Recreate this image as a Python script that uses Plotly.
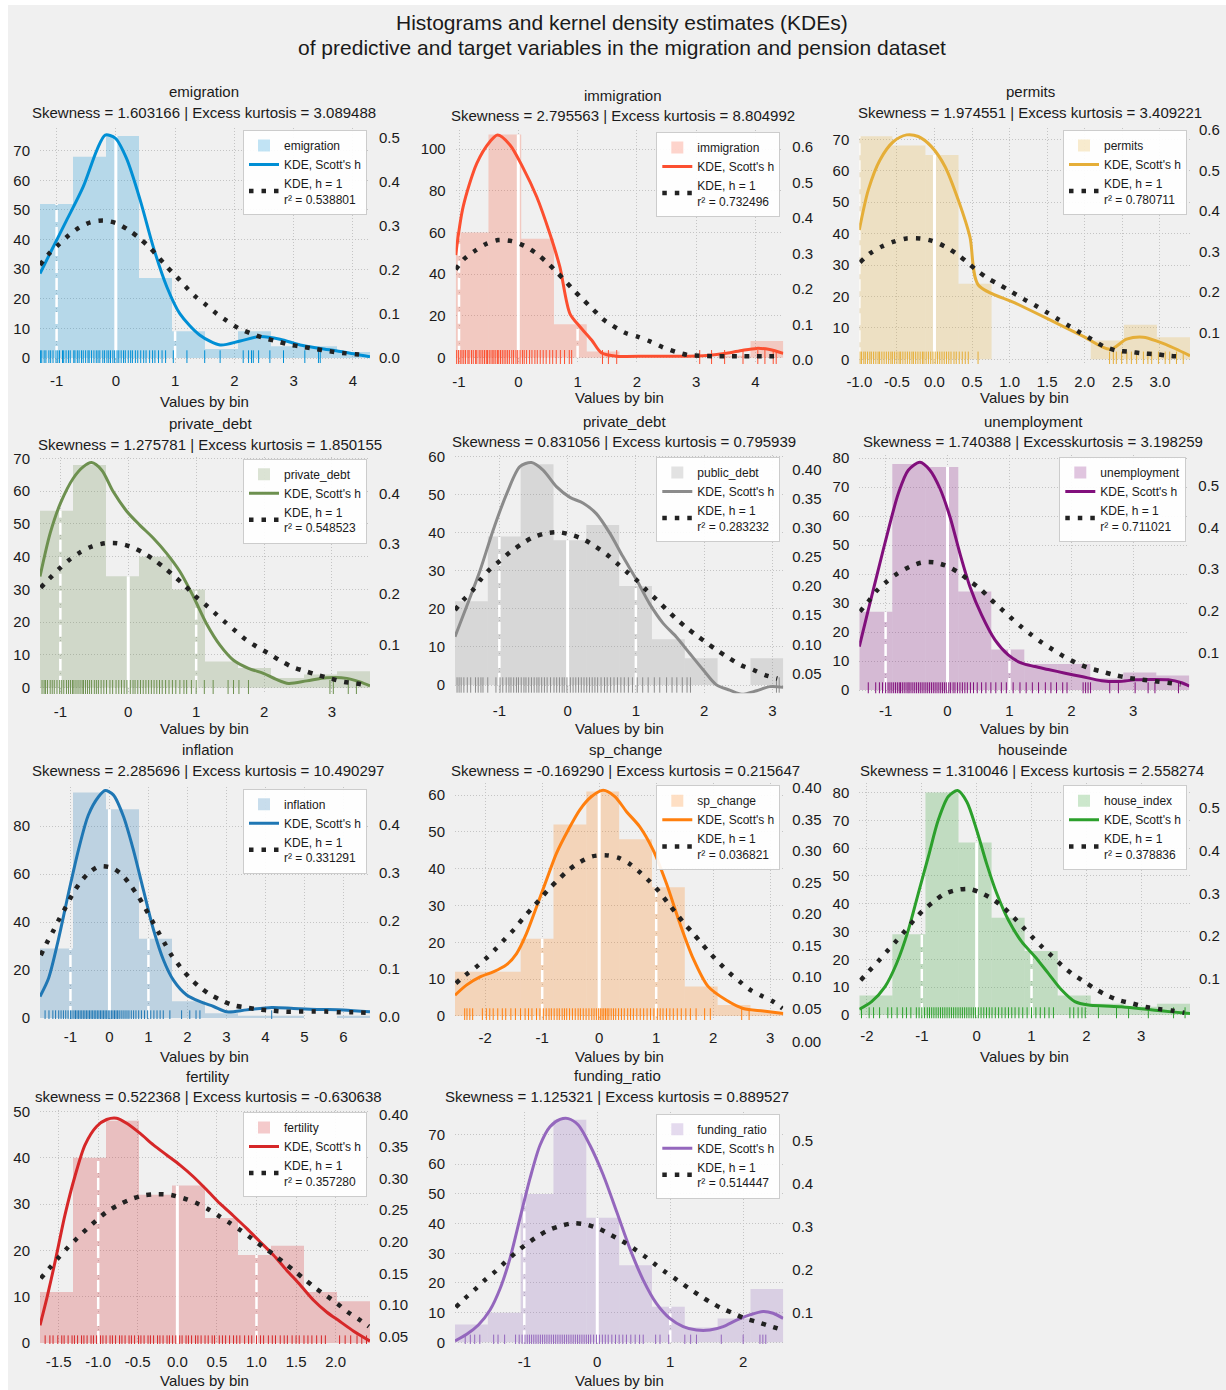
import plotly.graph_objects as go

W, H = 1226, 1390

# ------------------------------------------------------------------ data
EMIG_COUNTS = [52, 68, 75, 27, 9, 3, 9, 4, 4, 2]
EMIG_BINS = [-1.28, 4.29]
EMIG_SCOTT_X = [-1.28, -1.11, -0.83, -0.55, -0.32, -0.18, -0.01, 0.18, 0.41, 0.63, 0.86, 1.08, 1.42, 1.76, 2.10, 2.43, 2.77, 3.11, 3.45, 3.79, 4.29]
EMIG_SCOTT_Y = [0.191, 0.237, 0.312, 0.388, 0.471, 0.505, 0.498, 0.452, 0.358, 0.252, 0.161, 0.100, 0.051, 0.029, 0.038, 0.048, 0.042, 0.029, 0.021, 0.014, 0.002]
EMIG_H1_X = [-1.28, -1.14, -0.97, -0.80, -0.62, -0.43, -0.21, 0.01, 0.21, 0.40, 0.57, 0.72, 0.87, 1.03, 1.18, 1.34, 1.52, 1.70, 1.87, 2.07, 2.28, 2.49, 2.70, 2.92, 3.14, 3.36, 3.59, 3.81, 4.04, 4.24]
EMIG_H1_Y = [0.210, 0.234, 0.256, 0.277, 0.295, 0.307, 0.311, 0.305, 0.290, 0.271, 0.250, 0.228, 0.205, 0.183, 0.161, 0.139, 0.120, 0.100, 0.084, 0.067, 0.055, 0.045, 0.038, 0.030, 0.025, 0.020, 0.015, 0.011, 0.008, 0.005]
EMIG_RUG = [-1.27, -1.25, -1.21, -1.18, -1.13, -1.10, -1.06, -1.01, -0.98, -0.95, -0.90, -0.88, -0.84, -0.80, -0.77, -0.71, -0.69, -0.65, -0.62, -0.58, -0.55, -0.51, -0.47, -0.45, -0.41, -0.37, -0.33, -0.30, -0.27, -0.22, -0.19, -0.15, -0.12, -0.09, -0.05, -0.02, 0.02, 0.05, 0.09, 0.13, 0.16, 0.21, 0.25, 0.28, 0.33, 0.37, 0.42, 0.47, 0.51, 0.57, 0.62, 0.66, 0.72, 0.78, 0.84, 0.97, 1.20, 1.50, 1.76, 2.15, 2.24, 2.29, 2.32, 2.41, 2.60, 2.83, 3.19, 3.42, 3.45]

IMMIG_COUNTS = [60, 107, 57, 16, 3, 0, 0, 0, 1, 8]
IMMIG_BINS = [-1.056, 4.47]
IMMIG_SCOTT_X = [-1.056, -0.93, -0.70, -0.48, -0.35, -0.14, 0.07, 0.31, 0.53, 0.70, 0.87, 1.04, 1.24, 1.40, 1.66, 2.2, 2.8, 3.12, 3.51, 3.79, 4.02, 4.24, 4.47]
IMMIG_SCOTT_Y = [0.296, 0.432, 0.554, 0.615, 0.634, 0.606, 0.545, 0.460, 0.357, 0.263, 0.131, 0.094, 0.056, 0.021, 0.011, 0.011, 0.011, 0.012, 0.019, 0.028, 0.033, 0.030, 0.019]
IMMIG_H1_X = [-1.056, -0.92, -0.73, -0.545, -0.34, -0.11, 0.10, 0.29, 0.47, 0.63, 0.79, 0.94, 1.10, 1.26, 1.43, 1.59, 1.80, 2.01, 2.23, 2.44, 2.66, 2.87, 3.09, 3.31, 3.54, 3.76, 3.99, 4.21, 4.44]
IMMIG_H1_Y = [0.255, 0.284, 0.308, 0.327, 0.338, 0.335, 0.322, 0.302, 0.277, 0.251, 0.223, 0.196, 0.169, 0.143, 0.115, 0.097, 0.077, 0.066, 0.052, 0.036, 0.023, 0.014, 0.012, 0.011, 0.011, 0.011, 0.011, 0.011, 0.011]
IMMIG_RUG = [-1.04, -1.01, -0.98, -0.95, -0.92, -0.89, -0.85, -0.83, -0.79, -0.76, -0.72, -0.70, -0.66, -0.63, -0.60, -0.57, -0.54, -0.52, -0.49, -0.46, -0.43, -0.41, -0.38, -0.35, -0.33, -0.30, -0.27, -0.24, -0.21, -0.18, -0.15, -0.11, -0.08, -0.04, -0.01, 0.03, 0.07, 0.10, 0.14, 0.19, 0.23, 0.28, 0.32, 0.37, 0.42, 0.47, 0.53, 0.58, 0.64, 0.71, 0.78, 0.86, 0.90, 1.42, 1.52, 1.66, 3.06, 3.26, 3.48, 3.79, 4.04, 4.16, 4.30, 4.35]

PERM_COUNTS = [71, 68, 65, 24, 0, 0, 0, 6, 11, 7]
PERM_BINS = [-1.0, 3.40]
PERM_SCOTT_X = [-1.0, -0.88, -0.725, -0.548, -0.37, -0.215, -0.04, 0.14, 0.317, 0.472, 0.583, 1.07, 1.51, 1.96, 2.335, 2.556, 2.778, 2.978, 3.2, 3.4]
PERM_SCOTT_Y = [0.353, 0.452, 0.526, 0.571, 0.588, 0.584, 0.559, 0.510, 0.427, 0.336, 0.217, 0.173, 0.133, 0.092, 0.058, 0.083, 0.088, 0.077, 0.060, 0.042]
PERM_H1_X = [-0.99, -0.858, -0.70, -0.54, -0.37, -0.19, -0.03, 0.14, 0.295, 0.437, 0.57, 0.716, 0.87, 1.027, 1.18, 1.337, 1.49, 1.64, 1.79, 1.94, 2.09, 2.255, 2.42, 2.59, 2.77, 2.94, 3.12, 3.29]
PERM_H1_Y = [0.273, 0.295, 0.312, 0.324, 0.332, 0.332, 0.326, 0.312, 0.294, 0.273, 0.252, 0.233, 0.217, 0.200, 0.183, 0.167, 0.150, 0.133, 0.116, 0.099, 0.083, 0.065, 0.055, 0.052, 0.048, 0.046, 0.042, 0.040]
PERM_RUG = [-0.99, -0.97, -0.94, -0.92, -0.89, -0.86, -0.84, -0.81, -0.78, -0.75, -0.73, -0.70, -0.67, -0.64, -0.61, -0.58, -0.56, -0.53, -0.50, -0.47, -0.45, -0.42, -0.39, -0.36, -0.33, -0.30, -0.28, -0.25, -0.22, -0.19, -0.16, -0.14, -0.11, -0.08, -0.05, -0.02, 0.01, 0.04, 0.07, 0.10, 0.13, 0.16, 0.19, 0.22, 0.26, 0.29, 0.33, 0.37, 0.41, 0.45, 0.58, 2.33, 2.38, 2.42, 2.49, 2.56, 2.62, 2.69, 2.78, 2.84, 2.89, 2.98, 3.07, 3.13, 3.22, 3.31]

PRIV_COUNTS = [54, 68, 34, 40, 30, 8, 6, 3, 4, 5]
PRIV_BINS = [-1.30, 3.56]
PRIV_SCOTT_X = [-1.30, -1.15, -1.0, -0.81, -0.66, -0.54, -0.39, -0.22, -0.02, 0.17, 0.37, 0.565, 0.76, 0.96, 1.15, 1.35, 1.55, 1.77, 1.99, 2.18, 2.36, 2.63, 2.92, 3.22, 3.41, 3.56]
PRIV_SCOTT_Y = [0.235, 0.321, 0.380, 0.430, 0.453, 0.461, 0.446, 0.403, 0.364, 0.337, 0.311, 0.281, 0.245, 0.195, 0.142, 0.099, 0.069, 0.053, 0.043, 0.031, 0.023, 0.028, 0.034, 0.033, 0.026, 0.018]
PRIV_H1_X = [-1.29, -1.16, -1.02, -0.87, -0.71, -0.53, -0.34, -0.16, 0.04, 0.22, 0.38, 0.545, 0.70, 0.84, 0.98, 1.13, 1.28, 1.43, 1.58, 1.73, 1.89, 2.06, 2.23, 2.41, 2.59, 2.78, 2.97, 3.17, 3.35, 3.53]
PRIV_H1_Y = [0.213, 0.231, 0.250, 0.268, 0.283, 0.295, 0.301, 0.301, 0.294, 0.282, 0.268, 0.251, 0.233, 0.216, 0.197, 0.180, 0.162, 0.144, 0.127, 0.110, 0.096, 0.083, 0.069, 0.056, 0.048, 0.040, 0.033, 0.026, 0.023, 0.019]
PRIV_RUG = [-1.27, -1.24, -1.22, -1.19, -1.15, -1.12, -1.09, -1.05, -1.01, -0.98, -0.95, -0.91, -0.88, -0.85, -0.82, -0.80, -0.77, -0.74, -0.71, -0.68, -0.66, -0.63, -0.60, -0.57, -0.54, -0.50, -0.47, -0.44, -0.40, -0.36, -0.32, -0.27, -0.23, -0.18, -0.14, -0.10, -0.06, -0.02, 0.03, 0.07, 0.10, 0.14, 0.18, 0.22, 0.26, 0.30, 0.34, 0.38, 0.42, 0.46, 0.50, 0.55, 0.60, 0.65, 0.70, 0.76, 0.82, 0.86, 0.93, 1.00, 1.12, 1.25, 1.47, 1.55, 1.63, 1.77, 2.97, 3.02, 3.24, 3.36]

PUB_COUNTS = [22, 39, 58, 38, 42, 26, 12, 7, 0, 7]
PUB_BINS = [-1.65, 3.16]
PUB_SCOTT_X = [-1.65, -1.48, -1.28, -1.09, -0.89, -0.70, -0.53, -0.36, -0.16, 0.034, 0.23, 0.42, 0.62, 0.81, 1.01, 1.20, 1.40, 1.59, 1.79, 1.985, 2.18, 2.375, 2.55, 2.77, 2.96, 3.16]
PUB_SCOTT_Y = [0.113, 0.165, 0.228, 0.297, 0.360, 0.406, 0.413, 0.400, 0.371, 0.353, 0.343, 0.325, 0.291, 0.251, 0.211, 0.170, 0.136, 0.113, 0.084, 0.056, 0.030, 0.021, 0.014, 0.020, 0.027, 0.026]
PUB_H1_X = [-1.65, -1.53, -1.39, -1.27, -1.14, -0.99, -0.84, -0.67, -0.51, -0.33, -0.127, 0.068, 0.244, 0.41, 0.57, 0.727, 0.873, 1.015, 1.156, 1.30, 1.44, 1.58, 1.727, 1.88, 2.03, 2.195, 2.366, 2.537, 2.717, 2.893, 3.073]
PUB_H1_Y = [0.159, 0.176, 0.193, 0.212, 0.229, 0.244, 0.259, 0.273, 0.284, 0.291, 0.293, 0.288, 0.280, 0.268, 0.255, 0.239, 0.224, 0.210, 0.193, 0.177, 0.161, 0.145, 0.130, 0.116, 0.103, 0.089, 0.076, 0.064, 0.056, 0.047, 0.041]
PUB_RUG = [-1.62, -1.59, -1.56, -1.52, -1.47, -1.42, -1.35, -1.31, -1.27, -1.24, -1.17, -1.05, -0.99, -0.95, -0.90, -0.86, -0.83, -0.79, -0.75, -0.72, -0.68, -0.64, -0.61, -0.57, -0.53, -0.49, -0.45, -0.42, -0.38, -0.34, -0.30, -0.25, -0.20, -0.16, -0.12, -0.08, -0.05, -0.01, 0.04, 0.08, 0.12, 0.16, 0.20, 0.24, 0.28, 0.32, 0.36, 0.40, 0.44, 0.49, 0.54, 0.58, 0.63, 0.68, 0.73, 0.78, 0.83, 0.89, 0.95, 1.02, 1.10, 1.18, 1.27, 1.35, 1.45, 1.53, 1.60, 1.68, 1.75, 1.80, 3.06, 3.10]

UNEMP_COUNTS = [27, 78, 77, 34, 14, 9, 9, 4, 6, 5]
UNEMP_BINS = [-1.425, 3.905]
UNEMP_SCOTT_X = [-1.425, -1.28, -1.12, -0.957, -0.795, -0.634, -0.445, -0.284, -0.122, 0.039, 0.2, 0.362, 0.55, 0.766, 0.98, 1.197, 1.41, 1.627, 1.9, 2.166, 2.49, 2.758, 3.03, 3.3, 3.565, 3.78, 3.905]
UNEMP_SCOTT_Y = [0.114, 0.202, 0.298, 0.394, 0.482, 0.538, 0.557, 0.538, 0.494, 0.426, 0.338, 0.258, 0.190, 0.130, 0.094, 0.074, 0.066, 0.059, 0.050, 0.042, 0.032, 0.030, 0.034, 0.035, 0.034, 0.027, 0.019]
UNEMP_H1_X = [-1.415, -1.28, -1.145, -0.984, -0.806, -0.607, -0.42, -0.203, 0.012, 0.2, 0.373, 0.534, 0.696, 0.857, 1.019, 1.18, 1.347, 1.52, 1.697, 1.88, 2.074, 2.273, 2.489, 2.69, 2.91, 3.118, 3.334, 3.55, 3.764]
UNEMP_H1_Y = [0.198, 0.222, 0.248, 0.270, 0.290, 0.306, 0.316, 0.316, 0.306, 0.290, 0.270, 0.252, 0.228, 0.206, 0.184, 0.163, 0.143, 0.124, 0.107, 0.090, 0.075, 0.063, 0.054, 0.046, 0.039, 0.035, 0.031, 0.027, 0.023]
UNEMP_RUG = [-1.28, -1.16, -1.10, -1.05, -1.00, -0.96, -0.93, -0.90, -0.87, -0.84, -0.81, -0.78, -0.76, -0.73, -0.70, -0.67, -0.64, -0.62, -0.59, -0.56, -0.53, -0.50, -0.47, -0.44, -0.41, -0.38, -0.35, -0.32, -0.29, -0.26, -0.23, -0.20, -0.17, -0.14, -0.11, -0.08, -0.05, -0.02, 0.02, 0.05, 0.09, 0.12, 0.16, 0.20, 0.24, 0.28, 0.32, 0.37, 0.42, 0.48, 0.55, 0.62, 0.70, 0.78, 0.87, 0.95, 1.06, 1.17, 1.27, 1.37, 1.47, 1.58, 1.67, 1.76, 1.86, 1.93, 2.19, 2.23, 2.27, 2.31, 2.62, 2.76, 3.03, 3.24, 3.35, 3.73]

INFL_COUNTS = [29, 94, 87, 33, 7, 2, 1, 1, 0, 1]
INFL_BINS = [-1.78, 6.68]
INFL_SCOTT_X = [-1.78, -1.56, -1.31, -1.05, -0.795, -0.54, -0.28, -0.11, 0.10, 0.36, 0.615, 0.87, 1.13, 1.385, 1.64, 1.98, 2.325, 2.67, 3.01, 3.52, 4.16, 4.72, 5.32, 6.0, 6.68]
INFL_SCOTT_Y = [0.042, 0.080, 0.160, 0.257, 0.347, 0.420, 0.458, 0.471, 0.462, 0.417, 0.347, 0.264, 0.181, 0.118, 0.076, 0.045, 0.031, 0.021, 0.010, 0.014, 0.019, 0.017, 0.015, 0.014, 0.010]
INFL_H1_X = [-1.76, -1.61, -1.45, -1.29, -1.12, -0.96, -0.78, -0.56, -0.28, 0.06, 0.33, 0.556, 0.744, 0.915, 1.085, 1.256, 1.427, 1.60, 1.81, 2.03, 2.28, 2.556, 2.84, 3.16, 3.50, 3.82, 4.16, 4.52, 4.86, 5.20, 5.55, 5.89, 6.23, 6.57]
INFL_H1_Y = [0.128, 0.153, 0.177, 0.203, 0.228, 0.253, 0.276, 0.297, 0.3125, 0.310, 0.295, 0.272, 0.250, 0.226, 0.201, 0.176, 0.151, 0.127, 0.104, 0.083, 0.064, 0.047, 0.035, 0.024, 0.019, 0.015, 0.0125, 0.0104, 0.0104, 0.0104, 0.0104, 0.009, 0.009, 0.008]
INFL_RUG = [-1.65, -1.55, -1.45, -1.38, -1.30, -1.24, -1.18, -1.12, -1.06, -1.00, -0.96, -0.91, -0.87, -0.83, -0.79, -0.75, -0.71, -0.67, -0.63, -0.59, -0.55, -0.51, -0.47, -0.43, -0.39, -0.35, -0.31, -0.27, -0.23, -0.19, -0.15, -0.11, -0.07, -0.03, 0.01, 0.05, 0.09, 0.13, 0.17, 0.21, 0.25, 0.30, 0.35, 0.40, 0.45, 0.50, 0.56, 0.62, 0.68, 0.75, 0.82, 0.90, 0.98, 1.06, 1.14, 1.22, 1.30, 1.38, 1.55, 1.85, 2.06, 2.22, 2.32, 4.16]

SP_COUNTS = [12, 12, 21, 52, 61, 48, 35, 8, 3, 1]
SP_BINS = [-2.53, 3.23]
SP_SCOTT_X = [-2.53, -2.33, -2.09, -1.86, -1.63, -1.45, -1.275, -1.10, -0.924, -0.75, -0.544, -0.34, -0.135, 0.07, 0.275, 0.48, 0.713, 0.947, 1.18, 1.415, 1.65, 1.91, 2.234, 2.526, 2.877, 3.23]
SP_SCOTT_Y = [0.071, 0.087, 0.100, 0.108, 0.119, 0.137, 0.169, 0.211, 0.254, 0.296, 0.333, 0.365, 0.386, 0.396, 0.386, 0.362, 0.338, 0.301, 0.248, 0.185, 0.129, 0.085, 0.063, 0.050, 0.046, 0.042]
SP_H1_X = [-2.515, -2.345, -2.17, -1.99, -1.82, -1.655, -1.497, -1.345, -1.187, -1.03, -0.877, -0.708, -0.532, -0.34, -0.13, 0.105, 0.333, 0.538, 0.713, 0.889, 1.053, 1.20, 1.339, 1.49, 1.649, 1.807, 1.97, 2.13, 2.29, 2.468, 2.643, 2.848, 3.05, 3.216]
SP_H1_Y = [0.090, 0.103, 0.115, 0.129, 0.144, 0.160, 0.175, 0.192, 0.208, 0.224, 0.240, 0.255, 0.270, 0.282, 0.291, 0.293, 0.289, 0.279, 0.266, 0.251, 0.235, 0.218, 0.202, 0.185, 0.169, 0.152, 0.135, 0.120, 0.106, 0.0925, 0.080, 0.070, 0.061, 0.050]
SP_RUG = [-2.36, -2.32, -2.27, -2.22, -2.05, -1.98, -1.92, -1.86, -1.78, -1.70, -1.64, -1.55, -1.47, -1.38, -1.30, -1.24, -1.18, -1.10, -1.04, -0.98, -0.93, -0.88, -0.84, -0.79, -0.74, -0.70, -0.65, -0.61, -0.57, -0.52, -0.47, -0.42, -0.37, -0.33, -0.28, -0.23, -0.18, -0.13, -0.09, -0.05, -0.01, 0.02, 0.05, 0.08, 0.11, 0.14, 0.17, 0.21, 0.25, 0.29, 0.34, 0.39, 0.44, 0.50, 0.55, 0.60, 0.66, 0.72, 0.78, 0.84, 0.90, 0.96, 1.02, 1.07, 1.12, 1.18, 1.24, 1.30, 1.37, 1.44, 1.52, 1.60, 1.70, 1.85, 1.95, 2.50, 2.63]

HOUSE_COUNTS = [7, 29, 80, 62, 35, 23, 7, 4, 3, 4]
HOUSE_BINS = [-2.14, 3.89]
HOUSE_SCOTT_X = [-2.14, -1.915, -1.67, -1.46, -1.246, -1.064, -0.88, -0.70, -0.517, -0.347, -0.18, 0.0, 0.18, 0.365, 0.578, 0.82, 1.064, 1.307, 1.55, 1.79, 2.04, 2.34, 2.64, 2.95, 3.25, 3.556, 3.89]
HOUSE_SCOTT_Y = [0.029, 0.047, 0.082, 0.136, 0.214, 0.300, 0.386, 0.471, 0.526, 0.540, 0.514, 0.448, 0.370, 0.300, 0.2375, 0.187, 0.152, 0.113, 0.074, 0.047, 0.039, 0.037, 0.035, 0.031, 0.027, 0.023, 0.019]
HOUSE_H1_X = [-2.115, -1.957, -1.79, -1.63, -1.47, -1.307, -1.143, -0.985, -0.80, -0.596, -0.377, -0.134, 0.103, 0.316, 0.505, 0.68, 0.85, 1.02, 1.19, 1.368, 1.55, 1.73, 1.93, 2.146, 2.37, 2.596, 2.827, 3.07, 3.31, 3.556, 3.787]
HOUSE_H1_Y = [0.097, 0.119, 0.142, 0.165, 0.188, 0.212, 0.2375, 0.259, 0.279, 0.298, 0.3076, 0.310, 0.2998, 0.284, 0.265, 0.243, 0.220, 0.197, 0.175, 0.154, 0.132, 0.113, 0.096, 0.078, 0.062, 0.050, 0.043, 0.035, 0.030, 0.026, 0.021]
HOUSE_RUG = [-2.10, -1.96, -1.88, -1.77, -1.62, -1.55, -1.45, -1.35, -1.28, -1.20, -1.10, -1.05, -1.00, -0.95, -0.90, -0.86, -0.82, -0.78, -0.74, -0.70, -0.66, -0.62, -0.58, -0.54, -0.50, -0.46, -0.42, -0.38, -0.34, -0.30, -0.26, -0.22, -0.18, -0.14, -0.10, -0.06, -0.02, 0.03, 0.08, 0.13, 0.18, 0.23, 0.28, 0.34, 0.40, 0.46, 0.52, 0.58, 0.64, 0.70, 0.77, 0.84, 0.92, 1.00, 1.08, 1.16, 1.24, 1.32, 1.40, 1.70, 1.77, 1.85, 1.92, 1.98, 2.22, 2.55, 2.77, 3.13, 3.59, 3.80]

FERT_COUNTS = [11, 40, 48, 32, 34, 27, 19, 21, 11, 9]
FERT_BINS = [-1.735, 2.434]
FERT_SCOTT_X = [-1.735, -1.65, -1.545, -1.42, -1.29, -1.166, -1.02, -0.893, -0.766, -0.64, -0.47, -0.303, -0.135, 0.034, 0.2, 0.37, 0.54, 0.707, 0.876, 1.044, 1.213, 1.38, 1.55, 1.718, 1.886, 2.055, 2.223, 2.434]
FERT_SCOTT_Y = [0.068, 0.110, 0.168, 0.242, 0.305, 0.353, 0.382, 0.393, 0.395, 0.387, 0.371, 0.353, 0.337, 0.321, 0.303, 0.282, 0.260, 0.241, 0.221, 0.200, 0.179, 0.155, 0.132, 0.108, 0.089, 0.074, 0.059, 0.043]
FERT_H1_X = [-1.726, -1.617, -1.50, -1.39, -1.27, -1.145, -1.02, -0.893, -0.745, -0.59, -0.43, -0.26, -0.093, 0.067, 0.223, 0.38, 0.52, 0.657, 0.80, 0.94, 1.078, 1.213, 1.347, 1.478, 1.613, 1.743, 1.878, 2.013, 2.152, 2.286, 2.42]
FERT_H1_Y = [0.142, 0.158, 0.175, 0.190, 0.205, 0.220, 0.234, 0.247, 0.258, 0.267, 0.273, 0.275, 0.274, 0.269, 0.262, 0.252, 0.241, 0.230, 0.218, 0.205, 0.192, 0.180, 0.167, 0.154, 0.140, 0.127, 0.115, 0.103, 0.089, 0.078, 0.066]
FERT_RUG = [-1.67, -1.61, -1.57, -1.51, -1.46, -1.43, -1.38, -1.33, -1.30, -1.26, -1.21, -1.18, -1.14, -1.09, -1.06, -1.02, -0.97, -0.94, -0.90, -0.85, -0.82, -0.78, -0.73, -0.70, -0.66, -0.61, -0.58, -0.54, -0.49, -0.46, -0.42, -0.37, -0.34, -0.30, -0.25, -0.22, -0.18, -0.13, -0.10, -0.06, -0.02, 0.03, 0.06, 0.11, 0.14, 0.18, 0.23, 0.26, 0.30, 0.35, 0.39, 0.44, 0.47, 0.53, 0.57, 0.61, 0.66, 0.71, 0.75, 0.79, 0.85, 0.90, 0.94, 1.00, 1.05, 1.09, 1.15, 1.20, 1.24, 1.30, 1.35, 1.39, 1.45, 1.50, 1.54, 1.60, 1.65, 1.70, 1.76, 1.82, 1.87, 2.05, 2.12, 2.19, 2.27, 2.33, 2.39]

FUND_COUNTS = [6, 10, 50, 75, 42, 26, 12, 5, 8, 18]
FUND_BINS = [-1.95, 2.55]
FUND_SCOTT_X = [-1.95, -1.79, -1.63, -1.47, -1.33, -1.196, -1.06, -0.922, -0.785, -0.648, -0.511, -0.397, -0.26, -0.10, 0.082, 0.265, 0.447, 0.63, 0.81, 0.995, 1.178, 1.36, 1.543, 1.726, 1.909, 2.09, 2.274, 2.41, 2.548]
FUND_SCOTT_Y = [0.0356, 0.051, 0.0727, 0.1075, 0.158, 0.2275, 0.320, 0.413, 0.490, 0.533, 0.550, 0.552, 0.537, 0.490, 0.421, 0.336, 0.250, 0.177, 0.123, 0.088, 0.069, 0.061, 0.061, 0.069, 0.084, 0.096, 0.104, 0.100, 0.088]
FUND_H1_X = [-1.94, -1.81, -1.676, -1.54, -1.40, -1.265, -1.128, -0.99, -0.84, -0.68, -0.51, -0.33, -0.155, 0.014, 0.174, 0.338, 0.493, 0.644, 0.79, 0.94, 1.096, 1.247, 1.397, 1.557, 1.712, 1.863, 2.023, 2.205, 2.388, 2.539]
FUND_H1_Y = [0.114, 0.135, 0.1555, 0.177, 0.1965, 0.218, 0.239, 0.258, 0.276, 0.292, 0.3025, 0.309, 0.306, 0.297, 0.283, 0.268, 0.251, 0.233, 0.214, 0.195, 0.177, 0.159, 0.142, 0.125, 0.111, 0.100, 0.088, 0.079, 0.069, 0.061]
FUND_RUG = [-1.81, -1.74, -1.68, -1.61, -1.42, -1.36, -1.27, -1.12, -1.07, -1.03, -0.99, -0.96, -0.93, -0.90, -0.87, -0.84, -0.81, -0.78, -0.75, -0.72, -0.69, -0.66, -0.63, -0.60, -0.57, -0.54, -0.51, -0.48, -0.45, -0.42, -0.39, -0.36, -0.33, -0.30, -0.27, -0.24, -0.21, -0.18, -0.15, -0.12, -0.09, -0.05, -0.01, 0.03, 0.07, 0.11, 0.15, 0.20, 0.25, 0.30, 0.35, 0.40, 0.46, 0.52, 0.58, 0.63, 0.80, 0.86, 0.98, 1.20, 1.28, 1.36, 1.70, 2.00, 2.23, 2.27, 2.31]

TITLES = ["emigration", "immigration", "permits", "private_debt", "private_debt", "unemployment",
          "inflation", "sp_change", "houseinde", "fertility", "funding_ratio"]
LEGEND_NAMES = ["emigration", "immigration", "permits", "private_debt", "public_debt", "unemployment",
                "inflation", "sp_change", "house_index", "fertility", "funding_ratio"]
STATS = ["Skewness = 1.603166 | Excess kurtosis = 3.089488",
         "Skewness = 2.795563 | Excess kurtosis = 8.804992",
         "Skewness = 1.974551 | Excess kurtosis = 3.409221",
         "Skewness = 1.275781 | Excess kurtosis = 1.850155",
         "Skewness = 0.831056 | Excess kurtosis = 0.795939",
         "Skewness = 1.740388 | Excesskurtosis = 3.198259",
         "Skewness = 2.285696 | Excess kurtosis = 10.490297",
         "Skewness = -0.169290 | Excess kurtosis = 0.215647",
         "Skewness = 1.310046 | Excess kurtosis = 2.558274",
         "skewness = 0.522368 | Excess kurtosis = -0.630638",
         "Skewness = 1.125321 | Excess kurtosis = 0.889527"]
R2 = ["0.538801", "0.732496", "0.780711", "0.548523", "0.283232", "0.711021",
      "0.331291", "0.036821", "0.378836", "0.357280", "0.514447"]

# ------------------------------------------------------------------ styling / layout
COLORS = ["#008fd5", "#fc4f30", "#e5ae38", "#6d904f", "#8b8b8b", "#810f7c",
          "#1f77b4", "#ff7f0e", "#2ca02c", "#d62728", "#9467bd"]

DATA = [
    (EMIG_COUNTS, EMIG_BINS, EMIG_SCOTT_X, EMIG_SCOTT_Y, EMIG_H1_X, EMIG_H1_Y, EMIG_RUG),
    (IMMIG_COUNTS, IMMIG_BINS, IMMIG_SCOTT_X, IMMIG_SCOTT_Y, IMMIG_H1_X, IMMIG_H1_Y, IMMIG_RUG),
    (PERM_COUNTS, PERM_BINS, PERM_SCOTT_X, PERM_SCOTT_Y, PERM_H1_X, PERM_H1_Y, PERM_RUG),
    (PRIV_COUNTS, PRIV_BINS, PRIV_SCOTT_X, PRIV_SCOTT_Y, PRIV_H1_X, PRIV_H1_Y, PRIV_RUG),
    (PUB_COUNTS, PUB_BINS, PUB_SCOTT_X, PUB_SCOTT_Y, PUB_H1_X, PUB_H1_Y, PUB_RUG),
    (UNEMP_COUNTS, UNEMP_BINS, UNEMP_SCOTT_X, UNEMP_SCOTT_Y, UNEMP_H1_X, UNEMP_H1_Y, UNEMP_RUG),
    (INFL_COUNTS, INFL_BINS, INFL_SCOTT_X, INFL_SCOTT_Y, INFL_H1_X, INFL_H1_Y, INFL_RUG),
    (SP_COUNTS, SP_BINS, SP_SCOTT_X, SP_SCOTT_Y, SP_H1_X, SP_H1_Y, SP_RUG),
    (HOUSE_COUNTS, HOUSE_BINS, HOUSE_SCOTT_X, HOUSE_SCOTT_Y, HOUSE_H1_X, HOUSE_H1_Y, HOUSE_RUG),
    (FERT_COUNTS, FERT_BINS, FERT_SCOTT_X, FERT_SCOTT_Y, FERT_H1_X, FERT_H1_Y, FERT_RUG),
    (FUND_COUNTS, FUND_BINS, FUND_SCOTT_X, FUND_SCOTT_Y, FUND_H1_X, FUND_H1_Y, FUND_RUG),
]

# pixel boxes (left, top, right, bottom)
BOXES = [(40, 128, 370, 363), (455.7, 130, 783.3, 364), (859.3, 128, 1190, 364),
         (40, 456.7, 370, 694), (455, 455, 783.3, 693.3), (859.3, 455, 1189.3, 693.3),
         (40, 786.7, 370, 1019), (455, 783.3, 783.3, 1020), (859.3, 783.3, 1190, 1018.3),
         (40, 1110, 370, 1344), (455, 1111.7, 783.3, 1344)]
YL_RANGE = [[-1.69, 77.7], [-3.0, 109.1], [-1.5, 73.6], [-1.92, 70.5], [-2.18, 60.4], [-1.14, 81.1],
            [-0.4, 96.4], [-1.09, 63.2], [-1.19, 83.3], [-0.2, 50.3], [-0.57, 77.7]]
YR_RANGE = [[-0.012, 0.521], [-0.011, 0.648], [0.0217, 0.605], [0.002, 0.4727], [0.0155, 0.426],
            [0.0017, 0.5745], [-0.005, 0.479], [0.0317, 0.407], [0.008, 0.557], [0.0384, 0.408],
            [0.0285, 0.568]]
X_TICKS = [[-1, 0, 1, 2, 3, 4], [-1, 0, 1, 2, 3, 4], [-1, -0.5, 0, 0.5, 1, 1.5, 2, 2.5, 3],
           [-1, 0, 1, 2, 3], [-1, 0, 1, 2, 3], [-1, 0, 1, 2, 3], [-1, 0, 1, 2, 3, 4, 5, 6],
           [-2, -1, 0, 1, 2, 3], [-2, -1, 0, 1, 2, 3], [-1.5, -1, -0.5, 0, 0.5, 1, 1.5, 2],
           [-1, 0, 1, 2]]
X_DEC = [0, 0, 1, 0, 0, 0, 0, 0, 0, 1, 0]
YL_DTICK = [10, 20, 10, 10, 10, 10, 20, 10, 10, 10, 10]
YR_TICKS = [[0, 0.1, 0.2, 0.3, 0.4, 0.5], [0, 0.1, 0.2, 0.3, 0.4, 0.5, 0.6],
            [0.1, 0.2, 0.3, 0.4, 0.5, 0.6], [0, 0.1, 0.2, 0.3, 0.4],
            [0.05, 0.1, 0.15, 0.2, 0.25, 0.3, 0.35, 0.4], [0, 0.1, 0.2, 0.3, 0.4, 0.5],
            [0, 0.1, 0.2, 0.3, 0.4], [0.05, 0.1, 0.15, 0.2, 0.25, 0.3, 0.35, 0.4],
            [0, 0.1, 0.2, 0.3, 0.4, 0.5], [0.05, 0.1, 0.15, 0.2, 0.25, 0.3, 0.35, 0.4],
            [0.1, 0.2, 0.3, 0.4, 0.5]]
YR_FMT = [".1f", ".1f", ".1f", ".1f", ".2f", ".1f", ".1f", ".2f", ".1f", ".2f", ".1f"]
TITLE_POS = [(204, 91.7, 112.3), (623, 95, 115), (1030, 91.7, 112.3),
             (210, 424, 444.3), (624, 421.7, 441.7), (1033, 421.7, 441.7),
             (208, 749.3, 770), (625, 749.3, 770), (1032, 749.3, 770),
             (208, 1076.7, 1096.7), (617, 1075.7, 1096.7)]
XLABEL_Y = [401.5, 398, 398, 728, 728, 728, 1056, 1056, 1056, 1380, 1380]

FONT = "Liberation Sans, Arial, sans-serif"
TXT = "#1a1a1a"
GRID = "#c4c4c4"


def px_x(v):
    return v / W


def px_y(v):
    return 1 - v / H


def rgba(hex_color, a):
    h = hex_color.lstrip("#")
    return "rgba(%d,%d,%d,%s)" % (int(h[0:2], 16), int(h[2:4], 16), int(h[4:6], 16), a)


fig = go.Figure()
layout = dict(
    width=W, height=H, autosize=False,
    margin=dict(l=0, r=0, t=0, b=0, autoexpand=False),
    paper_bgcolor="#f0f0f0", plot_bgcolor="#f0f0f0",
    font=dict(family=FONT, size=15, color=TXT),
    showlegend=True,
    annotations=[], shapes=[],
)

for i in range(11):
    n = i + 1
    counts, brange, sx, sy, hx, hy, rug = DATA[i]
    color = COLORS[i]
    L, T, R, B = BOXES[i]
    xa = "x" if n == 1 else "x%d" % n
    ya = "y" if n == 1 else "y%d" % n
    ya2 = "y%d" % (n + 11)
    leg = "legend" if n == 1 else "legend%d" % n

    nb = len(counts)
    width = (brange[1] - brange[0]) / nb
    edges = [brange[0] + k * width for k in range(nb + 1)]
    centers = [(edges[k] + edges[k + 1]) / 2 for k in range(nb)]

    def count_at(v):
        for k in range(nb):
            if edges[k] <= v <= edges[k + 1]:
                return counts[k]
        return 0

    # histogram
    fig.add_trace(go.Bar(x=centers, y=counts, width=[width] * nb, xaxis=xa, yaxis=ya,
                         marker=dict(color=rgba(color, 0.24), line=dict(width=0)),
                         name=LEGEND_NAMES[i], legend=leg, hoverinfo="skip"))
    # mean (solid) and +-1 sd (dashed) white lines
    fig.add_trace(go.Scatter(x=[0, 0], y=[0, count_at(0)], xaxis=xa, yaxis=ya, mode="lines",
                             line=dict(color="white", width=3), showlegend=False, hoverinfo="skip"))
    dx, dy = [], []
    for v in (-1, 1):
        if brange[0] <= v <= brange[1]:
            dx += [v, v, None]
            dy += [0, count_at(v), None]
    fig.add_trace(go.Scatter(x=dx, y=dy, xaxis=xa, yaxis=ya, mode="lines",
                             line=dict(color="white", width=2.5, dash="12px,5px"),
                             showlegend=False, hoverinfo="skip"))
    # rug
    fig.add_trace(go.Scatter(x=rug, y=[0] * len(rug), xaxis=xa, yaxis=ya, mode="markers",
                             marker=dict(symbol="line-ns-open", size=11, color=color,
                                         line=dict(width=1, color=color)),
                             showlegend=False, hoverinfo="skip"))
    # KDE curves (density axis)
    fig.add_trace(go.Scatter(x=sx, y=sy, xaxis=xa, yaxis=ya2, mode="lines",
                             line=dict(color=color, width=3, shape="spline", smoothing=0.8),
                             name="KDE, Scott's h", legend=leg, hoverinfo="skip"))
    fig.add_trace(go.Scatter(x=hx, y=hy, xaxis=xa, yaxis=ya2, mode="lines",
                             line=dict(color="#222222", width=4.5, dash="4.5px,8px",
                                       shape="spline", smoothing=0.8),
                             name="KDE, h = 1<br>r² = " + R2[i], legend=leg, hoverinfo="skip"))

    fmt = "%%.%df" % X_DEC[i]
    xtext = [fmt % v for v in X_TICKS[i]]
    xdom = [px_x(L), px_x(R)]
    ydom = [px_y(B), px_y(T)]
    layout["xaxis" if n == 1 else "xaxis%d" % n] = dict(
        domain=xdom, anchor=ya, range=brange, tickvals=X_TICKS[i], ticktext=xtext,
        showgrid=True, gridcolor=GRID, griddash="1px,2px", gridwidth=1, automargin=False,
        zeroline=False, showline=False, ticks="outside", ticklen=4,
        tickcolor="rgba(0,0,0,0)", tickfont=dict(size=15, color=TXT))
    layout["yaxis" if n == 1 else "yaxis%d" % n] = dict(
        domain=ydom, anchor=xa, range=YL_RANGE[i], tick0=0, dtick=YL_DTICK[i],
        showgrid=True, gridcolor=GRID, griddash="1px,2px", gridwidth=1, automargin=False,
        zeroline=False, showline=False, ticks="outside", ticklen=6,
        tickcolor="rgba(0,0,0,0)", tickfont=dict(size=15, color=TXT))
    layout["yaxis%d" % (n + 11)] = dict(
        overlaying=ya, anchor=xa, side="right", range=YR_RANGE[i], automargin=False,
        tickvals=YR_TICKS[i], tickformat=YR_FMT[i], showgrid=False, zeroline=False,
        showline=False, ticks="outside", ticklen=5, tickcolor="rgba(0,0,0,0)",
        tickfont=dict(size=15, color=TXT))
    layout[leg] = dict(
        x=px_x(R - 3), y=px_y(T + 2), xanchor="right", yanchor="top",
        xref="paper", yref="paper",
        bgcolor="rgba(255,255,255,0.92)", bordercolor="#cccccc", borderwidth=1,
        font=dict(size=12, color=TXT, family=FONT), itemwidth=30, tracegroupgap=0)

    tx, ty1, ty2 = TITLE_POS[i]
    layout["annotations"].append(dict(text=TITLES[i], x=px_x(tx), y=px_y(ty1), xref="paper",
                                      yref="paper", showarrow=False, xanchor="center",
                                      yanchor="middle", font=dict(size=15, color=TXT)))
    layout["annotations"].append(dict(text=STATS[i], x=px_x(tx), y=px_y(ty2), xref="paper",
                                      yref="paper", showarrow=False, xanchor="center",
                                      yanchor="middle", font=dict(size=15, color=TXT)))
    layout["annotations"].append(dict(text="Values by bin", x=px_x((L + R) / 2), y=px_y(XLABEL_Y[i]),
                                      xref="paper", yref="paper", showarrow=False,
                                      xanchor="center", yanchor="middle",
                                      font=dict(size=15, color=TXT)))

# stray density tick label below the sp_change panel
layout["annotations"].append(dict(text="0.00", x=px_x(790), y=px_y(1041), xref="paper", yref="paper",
                                  showarrow=False, xanchor="left", yanchor="middle",
                                  font=dict(size=15, color=TXT)))
# main title
layout["annotations"].append(dict(text="Histograms and kernel density estimates (KDEs)",
                                  x=px_x(622), y=px_y(23), xref="paper", yref="paper",
                                  showarrow=False, xanchor="center", yanchor="middle",
                                  font=dict(size=21, color=TXT)))
layout["annotations"].append(dict(text="of predictive and target variables in the migration and pension dataset",
                                  x=px_x(622), y=px_y(48), xref="paper", yref="paper",
                                  showarrow=False, xanchor="center", yanchor="middle",
                                  font=dict(size=21, color=TXT)))
# white frame around the grey figure background
layout["shapes"] += [
    dict(type="rect", xref="paper", yref="paper", x0=0, x1=px_x(8), y0=0, y1=1,
         fillcolor="white", line=dict(width=0), layer="below"),
    dict(type="rect", xref="paper", yref="paper", x0=0, x1=1, y0=px_y(5), y1=1,
         fillcolor="white", line=dict(width=0), layer="below"),
]

fig.update_layout(**layout)
fig.write_html("out.html")
